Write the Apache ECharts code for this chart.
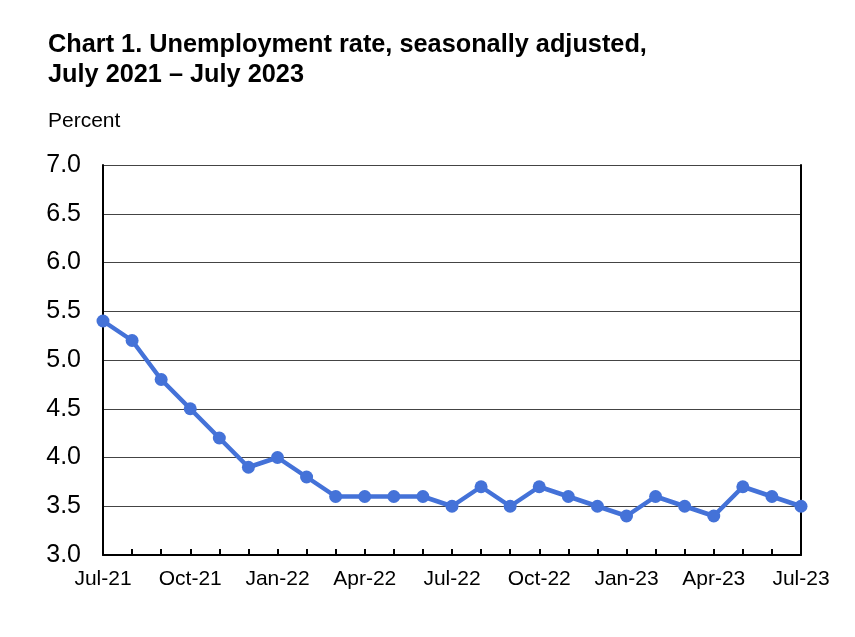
<!DOCTYPE html>
<html>
<head>
<meta charset="utf-8">
<script src="https://cdn.jsdelivr.net/npm/echarts@6/dist/echarts.min.js"></script>
<style>html,body{margin:0;padding:0;background:#fff;}#c{width:855px;height:637px;}</style>
</head>
<body>
<div id="c"></div>
<script>
const months = ['Jul-21','Aug-21','Sep-21','Oct-21','Nov-21','Dec-21','Jan-22','Feb-22','Mar-22','Apr-22','May-22','Jun-22','Jul-22','Aug-22','Sep-22','Oct-22','Nov-22','Dec-22','Jan-23','Feb-23','Mar-23','Apr-23','May-23','Jun-23','Jul-23'];
const unemploymentRate = [5.4,5.2,4.8,4.5,4.2,3.9,4.0,3.8,3.6,3.6,3.6,3.6,3.5,3.7,3.5,3.7,3.6,3.5,3.4,3.6,3.5,3.4,3.7,3.6,3.5];
const yTicks = [3.0,3.5,4.0,4.5,5.0,5.5,6.0,6.5,7.0];

const FONT = '"Liberation Sans", Arial, sans-serif';
const chart = echarts.init(document.getElementById('c'), null, {renderer:'canvas'});
chart.setOption({
  animation: false,
  backgroundColor: '#fff',
  title: [
    {text: 'Chart 1. Unemployment rate, seasonally adjusted,\nJuly 2021 – July 2023', left: 43, top: 25, padding: 5,
     textStyle: {fontFamily: FONT, fontSize: 25.3, fontWeight: 'bold', color: '#000', lineHeight: 30}},
    {text: 'Percent', left: 43, top: 106, padding: 5,
     textStyle: {fontFamily: FONT, fontSize: 21, fontWeight: 'normal', color: '#000'}}
  ],
  grid: {left: 103, right: 54, top: 165, bottom: 82, containLabel: false},
  xAxis: {
    type: 'category', data: months, boundaryGap: false,
    axisLine: {show: true, lineStyle: {color: '#000', width: 2}},
    axisTick: {show: true, inside: true, length: 6, interval: 0, lineStyle: {color: '#000', width: 2}},
    axisLabel: {interval: 2, fontFamily: FONT, fontSize: 21, color: '#000', margin: 14},
    splitLine: {show: false}
  },
  yAxis: [
    {
      type: 'value', min: yTicks[0], max: yTicks[yTicks.length-1], interval: 0.5,
      axisLine: {show: true, lineStyle: {color: '#000', width: 2}},
      axisTick: {show: false},
      axisLabel: {fontFamily: FONT, fontSize: 25, color: '#000', margin: 22, formatter: v => v.toFixed(1)},
      splitLine: {show: true, lineStyle: {color: '#444', width: 1}}
    },
    {
      type: 'value', min: yTicks[0], max: yTicks[yTicks.length-1], interval: 0.5, position: 'right',
      axisLine: {show: true, lineStyle: {color: '#000', width: 2}},
      axisTick: {show: false}, axisLabel: {show: false}, splitLine: {show: false}
    }
  ],
  series: [{
    type: 'line', data: unemploymentRate, yAxisIndex: 0,
    symbol: 'circle', symbolSize: 13,
    lineStyle: {color: '#4472D8', width: 4.5},
    itemStyle: {color: '#4472D8'}
  }]
});
</script>
</body>
</html>
